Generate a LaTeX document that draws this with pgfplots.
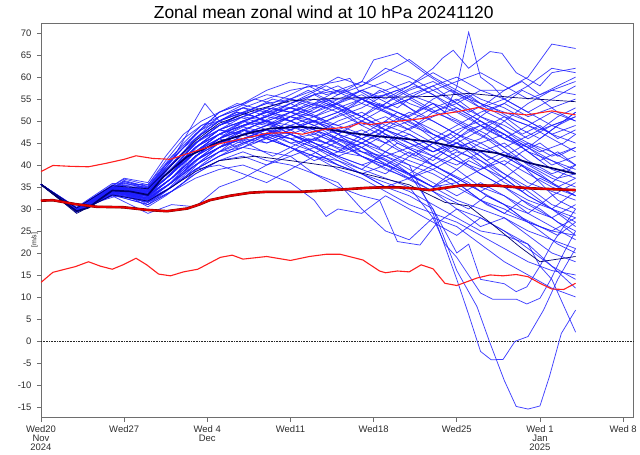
\documentclass[border=0pt]{standalone}
\usepackage{pgfplots}
\pgfplotsset{compat=1.18}
\usepackage{fontspec}
\setmainfont{Liberation Sans}
\definecolor{ens}{RGB}{30,30,255}
\definecolor{navy}{RGB}{0,0,110}
\definecolor{clim}{RGB}{255,30,30}
\definecolor{climd}{RGB}{230,0,0}
\definecolor{climdk}{RGB}{120,0,0}
\definecolor{frame}{RGB}{110,110,110}
\definecolor{lab}{RGB}{45,45,45}
\begin{document}
\begin{tikzpicture}
\begin{axis}[
  scale only axis, width=593bp, height=395bp,
  xmin=0, xmax=49.9, ymin=-17.5, ymax=72.3,
  axis line style={frame, line width=0.8bp},
  tick style={frame, line width=0.6bp},
  tick align=outside, major tick length=4bp,
  xtick pos=bottom, ytick pos=left,
  xtick={0,7,14,21,28,35,42,49},
  xticklabels={{Wed20\\Nov\\2024},{Wed27},{Wed 4\\Dec},{Wed11},{Wed18},{Wed25},{Wed 1\\Jan\\2025},{Wed 8}},
  ytick={-15,-10,...,70},
  tick label style={font=\fontsize{9.5}{9}\selectfont, text=lab},
  xticklabel style={align=center},
  yticklabel style={xshift=-2bp},
  /pgf/number format/assume math mode=true,
  ylabel={[m/s]},
  ylabel style={font=\fontsize{7}{8}\selectfont, text=lab, at={(axis description cs:-0.004,0.45)}, anchor=south, inner sep=0.5bp},
  title={Zonal mean zonal wind at 10 hPa 20241120},
  title style={font=\fontsize{17.5}{20}\selectfont, at={(axis description cs:0.477,1)}, anchor=base, yshift=-1.3bp, inner sep=0pt},
  mem/.style={ens, line width=0.75bp, opacity=0.85},
]
% zero line
\addplot[black!85, densely dotted, line width=0.6bp] coordinates {(0,0)(49.9,0)};
% ensemble members
\addplot[mem] coordinates {(0,35.6)(3,29.8)(6,34.5)(9,33.5)(11,38)(13,43)(15,47)(17,49)(19,51)(21,53)(23,52)(25,55)(27,57)(29,59)(31,56)(33,58)(35,60)(37,57)(39,55)(41,58)(43,62)(45,61)};
\addplot[mem] coordinates {(0,35.6)(3,29.5)(6,34)(9,33)(11,37)(13,42)(15,45)(17,48)(19,50)(21,49)(23,51)(25,48)(27,50)(29,53)(31,55)(33,52)(35,54)(37,57)(39,57)(41,60)(43,67.5)(45,66.5)};
\addplot[mem] coordinates {(0,35.6)(3,30)(6,35)(9,34)(11,40)(13,46)(15,50)(17,52)(19,54)(21,55)(23,53)(25,56)(27,58)(29,61)(31,64)(33,60)(35,57)(37,54)(39,52)(41,50)(43,47)(45,45)};
\addplot[mem] coordinates {(0,35.6)(3,29.6)(6,34)(9,32.5)(11,36)(13,41)(15,44)(17,46)(19,45)(21,47)(23,49)(25,46)(27,44)(29,47)(31,45)(33,42)(35,40)(37,43)(39,45)(41,41)(43,38)(45,40)};
\addplot[mem] coordinates {(0,35.6)(3,29.4)(6,33.5)(9,32)(11,35)(13,39)(15,42)(17,45)(19,47)(21,46)(23,44)(25,42)(27,40)(29,38)(31,42)(33,45)(35,48)(37,50)(39,46)(41,44)(43,48)(45,52)};
\addplot[mem] coordinates {(0,35.6)(3,30.2)(6,35.5)(9,35)(11,41)(13,47)(15,51)(17,53)(19,52)(21,54)(23,56)(25,58)(27,55)(29,52)(31,50)(33,53)(35,55)(37,51)(39,48)(41,45)(43,42)(45,44)};
\addplot[mem] coordinates {(0,35.6)(3,29.7)(6,34.3)(9,33.5)(11,38)(13,44)(15,48)(17,50)(19,48)(21,46)(23,47)(25,50)(27,52)(29,49)(31,47)(33,44)(35,41)(37,38)(39,35)(41,32)(43,30)(45,28)};
\addplot[mem] coordinates {(0,35.6)(3,29.5)(6,33.8)(9,32)(11,36)(13,40)(15,43)(17,47)(19,49)(21,51)(23,50)(25,47)(27,45)(29,43)(31,40)(33,38)(35,35)(37,32)(39,30)(41,27)(43,25)(45,24)};
\addplot[mem] coordinates {(0,35.6)(3,30.1)(6,34.8)(9,34.5)(11,39)(13,45)(15,49)(17,51)(19,53)(21,52)(23,50)(25,49)(27,51)(29,54)(31,57)(33,59)(35,56)(37,53)(39,55)(41,52)(43,49)(45,51)};
\addplot[mem] coordinates {(0,35.6)(3,29.3)(6,33.2)(9,31)(11,34)(13,38)(15,41)(17,42)(19,40)(21,43)(23,46)(25,48)(27,46)(29,43)(31,41)(33,39)(35,42)(37,45)(39,47)(41,44)(43,40)(45,42)};
\addplot[mem] coordinates {(0,35.6)(3,29.9)(6,34.6)(9,34)(11,40)(13,46)(15,50)(17,53)(19,55)(21,57)(23,58)(25,56)(27,59)(29,57)(31,54)(33,52)(35,50)(37,47)(39,44)(41,40)(43,37)(45,35)};
\addplot[mem] coordinates {(0,35.6)(3,29.6)(6,34.1)(9,33)(11,37)(13,42)(15,46)(17,48)(19,47)(21,49)(23,48)(25,45)(27,42)(29,40)(31,38)(33,35)(35,36)(37,39)(39,41)(41,38)(43,35)(45,33)};
\addplot[mem] coordinates {(0,35.6)(3,29.8)(6,34.4)(9,33.6)(11,38)(13,44)(15,47)(17,46)(19,48)(21,51)(23,53)(25,54)(27,51)(29,48)(31,50)(33,47)(35,44)(37,46)(39,50)(41,54)(43,57)(45,56)};
\addplot[mem] coordinates {(0,35.6)(3,29.5)(6,33.7)(9,32.2)(11,36)(13,41)(15,45)(17,48)(19,50)(21,47)(23,45)(25,43)(27,47)(29,50)(31,48)(33,51)(35,53)(37,50)(39,47)(41,43)(43,39)(45,37)};
\addplot[mem] coordinates {(0,35.6)(3,30.3)(6,35.2)(9,34.8)(11,41)(13,47)(15,52)(17,54)(19,56)(21,55)(23,57)(25,60)(27,58)(29,62)(31,60)(33,57)(35,54)(37,51)(39,49)(41,46)(43,49)(45,47)};
\addplot[mem] coordinates {(0,35.6)(3,29.4)(6,33.4)(9,31.5)(11,35)(13,39)(15,40)(17,38)(19,36)(21,39)(23,42)(25,40)(27,38)(29,35)(31,37)(33,40)(35,43)(37,41)(39,38)(41,35)(43,31)(45,29)};
\addplot[mem] coordinates {(0,35.6)(3,29.7)(6,34.2)(9,33)(11,37)(13,43)(15,47)(17,49)(19,51)(21,50)(23,48)(25,46)(27,44)(29,41)(31,38)(33,35)(35,32)(37,30)(39,28)(41,25)(43,23)(45,21)};
\addplot[mem] coordinates {(0,35.6)(3,30)(6,34.9)(9,34.2)(11,39)(13,45)(15,48)(17,50)(19,52)(21,50)(23,52)(25,54)(27,56)(29,53)(31,55)(33,57)(35,59)(37,61)(39,58)(41,55)(43,57)(45,59)};
\addplot[mem] coordinates {(0,35.6)(3,29.6)(6,34)(9,32.8)(11,37)(13,42)(15,46)(17,50)(19,49)(21,51)(23,49)(25,47)(27,50)(29,48)(31,45)(33,43)(35,45)(37,42)(39,38)(41,34)(43,30)(45,26)};
\addplot[mem] coordinates {(0,35.6)(3,29.9)(6,34.7)(9,34)(11,39)(13,44)(15,48)(17,47)(19,49)(21,52)(23,50)(25,48)(27,46)(29,49)(31,52)(33,50)(35,47)(37,44)(39,42)(41,39)(43,36)(45,33)};
\addplot[mem] coordinates {(0,35.6)(3,29.5)(6,33.9)(9,32.5)(11,36)(13,40)(15,44)(17,46)(19,48)(21,45)(23,43)(25,40)(27,38)(29,36)(31,34)(33,31)(35,28)(37,25)(39,24)(41,22)(43,17)(45,14)};
\addplot[mem] coordinates {(0,35.6)(3,30.1)(6,35)(9,34.3)(11,40)(13,46)(15,51)(17,53)(19,51)(21,53)(23,55)(25,53)(27,50)(29,47)(31,44)(33,46)(35,49)(37,52)(39,54)(41,51)(43,53)(45,55)};
\addplot[mem] coordinates {(0,35.6)(3,29.8)(6,34.4)(9,33.4)(11,38)(13,43)(15,46)(17,49)(19,51)(21,53)(23,51)(25,49)(27,47)(29,45)(31,47)(33,44)(35,41)(37,39)(39,42)(41,45)(43,43)(45,40)};
\addplot[mem] coordinates {(0,35.6)(3,29.4)(6,33.6)(9,31.8)(11,35)(13,40)(15,43)(17,44)(19,46)(21,44)(23,41)(25,43)(27,45)(29,42)(31,39)(33,36)(35,33)(37,36)(39,33)(41,30)(43,28)(45,31)};
\addplot[mem] coordinates {(0,35.6)(3,29.7)(6,34.2)(9,33.2)(11,37)(13,42)(15,45)(17,47)(19,49)(21,48)(23,50)(25,52)(27,49)(29,51)(31,48)(33,45)(35,42)(37,38)(39,35)(41,31)(43,28)(45,24)};
\addplot[mem] coordinates {(0,35.6)(3,30.2)(6,35.3)(9,34.6)(11,40)(13,46)(15,50)(17,52)(19,54)(21,53)(23,51)(25,54)(27,57)(29,55)(31,58)(33,61)(35,58)(37,55)(39,53)(41,50)(43,47)(45,49)};
\addplot[mem] coordinates {(0,35.6)(3,29.6)(6,34)(9,32.6)(11,37)(13,41)(15,44)(17,48)(19,46)(21,44)(23,42)(25,39)(27,37)(29,34)(31,31)(33,29)(35,27)(37,24)(39,21)(41,18)(43,16)(45,15)};
\addplot[mem] coordinates {(0,35.6)(3,29.9)(6,34.6)(9,33.9)(11,39)(13,45)(15,49)(17,51)(19,50)(21,48)(23,50)(25,52)(27,54)(29,52)(31,49)(33,47)(35,45)(37,48)(39,51)(41,49)(43,46)(45,43)};
\addplot[mem] coordinates {(0,35.6)(3,29.5)(6,33.8)(9,32.3)(11,36)(13,41)(15,45)(17,47)(19,45)(21,47)(23,45)(25,42)(27,40)(29,42)(31,44)(33,42)(35,39)(37,35)(39,33)(41,29)(43,26)(45,23)};
\addplot[mem] coordinates {(0,35.6)(3,30)(6,34.8)(9,34.1)(11,39)(13,44)(15,47)(17,49)(19,51)(21,54)(23,56)(25,53)(27,51)(29,48)(31,46)(33,43)(35,46)(37,49)(39,47)(41,43)(43,41)(45,38)};
\addplot[mem] coordinates {(0,35.6)(3,29.7)(6,34.3)(9,33.3)(11,38)(13,43)(15,47)(17,50)(19,52)(21,51)(23,49)(25,51)(27,53)(29,56)(31,53)(33,50)(35,47)(37,45)(39,42)(41,39)(43,36)(45,40)};
\addplot[mem] coordinates {(0,35.6)(3,29.4)(6,33.5)(9,31.7)(11,35)(13,39)(15,42)(17,44)(19,47)(21,49)(23,47)(25,45)(27,42)(29,39)(31,37)(33,39)(35,36)(37,32)(39,29)(41,27)(43,25)(45,28)};
\addplot[mem] coordinates {(0,35.6)(3,29.8)(6,34.5)(9,33.7)(11,38)(13,44)(15,48)(17,51)(19,53)(21,55)(23,54)(25,52)(27,55)(29,53)(31,51)(33,54)(35,52)(37,49)(39,46)(41,49)(43,52)(45,50)};
\addplot[mem] coordinates {(0,35.6)(3,29.6)(6,34.1)(9,32.9)(11,37)(13,42)(15,46)(17,45)(19,47)(21,50)(23,48)(25,46)(27,48)(29,45)(31,42)(33,40)(35,37)(37,34)(39,31)(41,29)(43,33)(45,36)};
\addplot[mem] coordinates {(0,35.6)(3,30.1)(6,34.9)(9,34.4)(11,40)(13,45)(15,49)(17,52)(19,50)(21,52)(23,54)(25,57)(27,55)(29,57)(31,59)(33,56)(35,53)(37,50)(39,47)(41,44)(43,41)(45,39)};
\addplot[mem] coordinates {(0,35.6)(3,29.5)(6,33.9)(9,32.4)(11,36)(13,41)(15,44)(17,46)(19,48)(21,46)(23,44)(25,46)(27,43)(29,41)(31,38)(33,42)(35,45)(37,43)(39,40)(41,36)(43,34)(45,32)};
% more members, finer steps
\addplot[mem] coordinates {(0,35.6)(3,29.9)(5,33)(7,36.5)(9,35)(10.5,40)(12,44)(13.5,48)(15,50)(16.5,49)(18,51)(19.5,53)(21,52)(22.5,54)(24,53)(25.5,55)(27,57)(28.5,55)(30,53)(31.5,56)(33,58)(34.5,55)(36,52)(37.5,54)(39,57)(40.5,59)(42,56)(43.5,58)(45,60)};
\addplot[mem] coordinates {(0,35.6)(3,29.5)(5,32)(7,34)(9,31)(10.5,34)(12,38)(13.5,42)(15,44)(16.5,46)(18,45)(19.5,47)(21,49)(22.5,47)(24,45)(25.5,48)(27,46)(28.5,44)(30,47)(31.5,49)(33,46)(34.5,43)(36,45)(37.5,42)(39,40)(40.5,43)(42,45)(43.5,42)(45,44)};
\addplot[mem] coordinates {(0,35.6)(3,30.2)(5,33.5)(7,37)(9,36)(10.5,42)(12,47)(13.5,50)(15,52)(16.5,54)(18,53)(19.5,55)(21,54)(22.5,56)(24,58)(25.5,56)(27,54)(28.5,57)(30,55)(31.5,52)(33,54)(34.5,51)(36,49)(37.5,52)(39,50)(40.5,47)(42,49)(43.5,46)(45,48)};
\addplot[mem] coordinates {(0,35.6)(3,29.6)(5,32.5)(7,35)(9,33.5)(10.5,37)(12,41)(13.5,45)(15,47)(16.5,49)(18,48)(19.5,46)(21,48)(22.5,50)(24,49)(25.5,46)(27,44)(28.5,42)(30,45)(31.5,43)(33,40)(34.5,38)(36,41)(37.5,39)(39,36)(40.5,34)(42,37)(43.5,35)(45,33)};
\addplot[mem] coordinates {(0,35.6)(3,29.4)(5,31.8)(7,33.5)(9,30.5)(10.5,33)(12,36)(13.5,40)(15,43)(16.5,45)(18,47)(19.5,46)(21,44)(22.5,42)(24,44)(25.5,46)(27,43)(28.5,41)(30,39)(31.5,37)(33,35)(34.5,38)(36,36)(37.5,33)(39,31)(40.5,28)(42,26)(43.5,24)(45,27)};
\addplot[mem] coordinates {(0,35.6)(3,30)(5,33.2)(7,36)(9,34.5)(10.5,39)(12,43)(13.5,46)(15,49)(16.5,51)(18,50)(19.5,52)(21,54)(22.5,52)(24,50)(25.5,52)(27,55)(28.5,53)(30,51)(31.5,49)(33,52)(34.5,54)(36,56)(37.5,53)(39,51)(40.5,48)(42,46)(43.5,49)(45,51)};
\addplot[mem] coordinates {(0,35.6)(3,29.7)(5,32.8)(7,35.5)(9,34)(10.5,38)(12,42)(13.5,46)(15,48)(16.5,47)(18,49)(19.5,51)(21,50)(22.5,48)(24,46)(25.5,44)(27,46)(28.5,48)(30,45)(31.5,43)(33,41)(34.5,44)(36,42)(37.5,39)(39,37)(40.5,40)(42,38)(43.5,35)(45,37)};
\addplot[mem] coordinates {(0,35.6)(3,29.8)(5,33)(7,35.8)(9,34.8)(10.5,40)(12,45)(13.5,49)(15,51)(16.5,53)(18,55)(19.5,54)(21,56)(22.5,58)(24,56)(25.5,57)(27,55)(28.5,53)(30,56)(31.5,58)(33,56)(34.5,53)(36,51)(37.5,48)(39,46)(40.5,44)(42,41)(43.5,43)(45,40)};
\addplot[mem] coordinates {(0,35.6)(3,29.5)(5,32.3)(7,34.5)(9,32)(10.5,35)(12,39)(13.5,43)(15,46)(16.5,48)(18,50)(19.5,49)(21,47)(22.5,45)(24,47)(25.5,45)(27,42)(28.5,40)(30,38)(31.5,36)(33,34)(34.5,32)(36,30)(37.5,33)(39,31)(40.5,28)(42,25)(43.5,22)(45,20)};
\addplot[mem] coordinates {(0,35.6)(3,30.1)(5,33.6)(7,36.8)(9,35.5)(10.5,41)(12,46)(13.5,49)(15,50)(16.5,52)(18,51)(19.5,49)(21,51)(22.5,53)(24,55)(25.5,53)(27,51)(28.5,49)(30,52)(31.5,50)(33,48)(34.5,46)(36,49)(37.5,47)(39,44)(40.5,46)(42,48)(43.5,51)(45,53)};
\addplot[mem] coordinates {(0,35.6)(3,29.6)(5,32.6)(7,35)(9,33)(10.5,37)(12,41)(13.5,44)(15,46)(16.5,44)(18,46)(19.5,48)(21,47)(22.5,45)(24,43)(25.5,41)(27,39)(28.5,42)(30,40)(31.5,37)(33,35)(34.5,37)(36,34)(37.5,31)(39,29)(40.5,32)(42,30)(43.5,27)(45,25)};
\addplot[mem] coordinates {(0,35.6)(3,29.9)(5,33.1)(7,36.2)(9,35.2)(10.5,40)(12,44)(13.5,47)(15,50)(16.5,52)(18,51)(19.5,53)(21,55)(22.5,57)(24,55)(25.5,53)(27,51)(28.5,54)(30,52)(31.5,50)(33,47)(34.5,45)(36,48)(37.5,46)(39,43)(40.5,41)(42,39)(43.5,37)(45,38)};
\addplot[mem] coordinates {(0,35.6)(3,29.4)(5,32)(7,34.2)(9,31.5)(10.5,34)(12,37)(13.5,41)(15,44)(16.5,46)(18,44)(19.5,42)(21,44)(22.5,46)(24,45)(25.5,43)(27,45)(28.5,47)(30,44)(31.5,42)(33,45)(34.5,47)(36,44)(37.5,41)(39,43)(40.5,40)(42,36)(43.5,32)(45,30)};
\addplot[mem] coordinates {(0,35.6)(3,30)(5,33.3)(7,36.3)(9,34.7)(10.5,39)(12,43)(13.5,47)(15,49)(16.5,51)(18,53)(19.5,52)(21,50)(22.5,52)(24,54)(25.5,52)(27,49)(28.5,47)(30,50)(31.5,52)(33,55)(34.5,57)(36,55)(37.5,52)(39,54)(40.5,57)(42,55)(43.5,52)(45,50)};
% special members
\addplot[mem] coordinates {(0,35.6)(3,29.9)(6,34.7)(9,34)(11,39)(13,45)(15,49)(17,51)(19,53)(21,52)(23,54)(25,55)(27,55)(29,53)(31,56)(33,54)(34,52)(35,57.8)(36,70.2)(37,60)(38,58)(39,55)(41,52)(43,55)(45,58)};
\addplot[mem] coordinates {(0,35.6)(3,29.8)(6,34.6)(9,33.8)(11,39)(13,44)(15,48)(17,50)(19,52)(21,53)(23,56)(25,57)(27,58.9)(28,63.9)(30,65.4)(31,63.5)(32.5,60.5)(34,58)(36,55)(38,53)(40,50)(42,48)(44,50)(45,52)};
\addplot[mem] coordinates {(0,35.6)(3,29.7)(6,34.4)(9,33.5)(11,38)(13,43)(15,47)(17,49)(19,50)(21,52)(23,51)(25,53)(27,55)(29,56)(31,58)(33,62)(33.8,64.3)(34.7,66.1)(36,62)(37.8,65.8)(38.8,65.4)(40,61)(42,58)(43,61)(45,62)};
\addplot[mem] coordinates {(0,35.6)(3,30.4)(6,35.8)(9,35.5)(11,42)(13,47)(15,52)(17,54)(19,57)(21,58.9)(23,58)(25,59)(26,59.7)(26.7,57)(28,55)(30,57)(32,54)(34,51)(36,48)(38,50)(40,46)(42,43)(44,45)(45,47)};
\addplot[mem] coordinates {(0,35.6)(3,30)(6,35)(9,34.5)(11,41)(12.5,48)(13.8,54)(15,50)(17,52)(19,50)(21,48)(23,50)(25,47)(27,45)(29,48)(31,46)(33,43)(35,45)(37,41)(39,37)(41,33)(43,30)(45,27)};
\addplot[mem] coordinates {(0,35.6)(3,29.6)(6,34.1)(9,33)(11,37)(13,42)(15,45)(17,47)(19,48)(21,47)(23,45)(25,43)(27,42)(29,40)(31,38)(33,30)(35,16)(36.7,7.8)(37.8,-0.5)(39,-9)(40,-14.9)(41,-15.5)(42,-14.8)(42.8,-8.1)(43.8,1.7)(45,7)};
\addplot[mem] coordinates {(0,35.6)(3,29.5)(6,33.9)(9,32.5)(11,36)(13,41)(15,44)(17,46)(19,47)(21,45)(23,46)(25,44)(27,43)(29,42)(31,40)(33,29)(35,14)(36,6)(37,-2.4)(37.9,-4.3)(38.9,-4.2)(39.9,-0.1)(41,1)(42.3,7)(43.5,14)(45,21)};
\addplot[mem] coordinates {(0,35.6)(3,29.7)(6,34.2)(9,33.2)(11,37)(13,42)(15,46)(17,48)(19,46)(21,44)(23,42)(25,41)(27,39)(29,37)(31,35)(33,28)(34,22)(35,19)(37,10.9)(38,9.5)(40,9.5)(40.9,8.4)(42,9.7)(42.9,13.9)(44,20)(45,25)};
\addplot[mem] coordinates {(0,35.6)(3,29.6)(6,34)(9,32.8)(11,36)(13,40)(15,43)(17,45)(19,47)(21,46)(23,43)(25,40)(27,38)(29,35)(31,33)(33,30)(35,20)(36,22)(37,14)(39,13)(40,11.2)(40.9,12.3)(42,17)(43,22)(45,30)};
\addplot[mem] coordinates {(0,35.6)(3,29.8)(6,34.5)(9,33.6)(11,38)(13,43)(15,46)(17,48)(19,46)(21,48)(23,45)(25,42)(27,44)(29,40)(31,37)(33,34)(35,30)(37,28)(39,25)(41,22)(42,17)(43,14)(44,8)(45,2)};
\addplot[mem] coordinates {(0,35.6)(3,29.5)(6,33.8)(9,32.2)(11,35)(13,39)(15,42)(17,44)(19,43)(21,42)(23,38)(25,35)(27,33)(28.5,32)(30,22.6)(31.9,21.8)(33.3,26.7)(35,30)(37,26)(39,28)(41,24)(43,20)(45,18)};
\addplot[mem] coordinates {(0,35.6)(3,29.4)(6,33.4)(9,31.5)(11,34)(13,37)(15,39)(17,40)(19,38)(21,36)(23,32)(24,28.3)(25,30)(27,29)(29,33)(31,30)(33,27)(35,24)(37,28)(39,25)(41,21)(43,17)(45,12)};
\addplot[mem] coordinates {(0,35.6)(3,29.3)(6,33.2)(9,31)(11,34)(13,38)(15,41)(17,43)(19,41)(21,40)(23,38)(25,36)(27,30)(29,25)(31,23)(33,28)(35,26)(37,22)(39,18)(41,15)(43,12)(45,10)};
\addplot[mem] coordinates {(0,35.6)(3,29.3)(6,33)(9,29)(11,31)(13,30.5)(15,35)(17,37)(19,40)(21,42)(23,44)(25,41)(27,38)(29,40)(31,43)(33,40)(35,37)(37,34)(39,37)(41,33)(43,30)(45,34)};
% ensemble mean and spread
\addplot[navy, line width=1.7bp] coordinates {(0,35.6)(1,33.5)(2,31.5)(3,29.5)(4,30.3)(5,32.3)(6,34.2)(7.5,34)(9,33.2)(10.3,37.3)(12.3,41.9)(15,45.3)(18,47.6)(19.3,48.3)(21.8,48.7)(24,48.2)(26,47.3)(28.5,46.5)(30.5,46)(32.7,45.3)(35.5,43.8)(38.4,42.7)(41.2,40.4)(43,39.3)(45,38)};
\addplot[navy, line width=0.7bp] coordinates {(0,35.6)(3,30.2)(6,35.3)(9,34.6)(11,40)(13,45.5)(15,49.5)(18,52.5)(21,54.6)(25,55.2)(29,55.4)(33,55.6)(36,56.3)(40,55.3)(45,54.4)};
\addplot[navy, line width=0.7bp] coordinates {(0,35.6)(3,29)(6,33.2)(9,31.8)(11,35)(13,38.5)(15,41)(18,42)(21,41)(25,39.5)(28,37.5)(31,35.5)(34,31.5)(36,30.7)(38,26.5)(40.3,21.4)(42,18)(45,19.2)};
% climatology
\addplot[clim, line width=1.1bp] coordinates {(0,38.5)(1,39.9)(2.5,39.7)(4,39.6)(5.5,40.4)(7,41.3)(8,42.1)(9.4,41.5)(10.9,41.3)(12.8,43)(15.1,44.9)(17,46)(19,47.2)(21,47.4)(22,47)(23.8,48.1)(26,48.7)(26.9,49.6)(27.7,49.2)(29.4,49.8)(30.2,50)(32.2,50.6)(33.3,51.4)(35,52.1)(36.8,53.1)(38,52.3)(38.9,51.9)(40.9,51.4)(43,52.3)(45,51.4)};
\addplot[clim, line width=1.1bp] coordinates {(0,13.3)(1,15.6)(2.9,16.9)(4,18)(5,17)(6,16.3)(6.9,17.3)(8,18.8)(8.9,17.3)(9.9,15.2)(10.9,14.8)(12,15.7)(13.2,16.3)(15.1,19)(16.1,19.5)(17,18.6)(19,19.2)(21,18.3)(22.6,19.2)(24,19.7)(25.2,19.7)(27.1,18.4)(28.5,15.9)(29,15.5)(30,15.9)(31,15.7)(32,17.3)(33,16.4)(34,13.1)(35,12.6)(36.7,14.3)(37.8,15)(38.9,14.8)(40,15.1)(41,14.6)(42,13.1)(43,11.8)(44,11.7)(45,13.1)};
\addplot[climdk, line width=2.6bp] coordinates {(0,31.9)(1,32)(2.9,31.1)(4.7,30.5)(6.9,30.4)(8.9,29.8)(10.6,29.5)(12.3,30.1)(13.4,31.1)(14.2,32)(15.9,33)(17.6,33.7)(19,33.9)(21.8,33.9)(24.6,34.3)(27.4,34.8)(28.5,34.9)(30.2,34.9)(31.3,34.7)(32.7,34.3)(35.5,35.4)(38.4,35.3)(41.2,34.7)(45,34.3)};
\addplot[climd, line width=1.8bp] coordinates {(0,31.9)(1,32)(2.9,31.1)(4.7,30.5)(6.9,30.4)(8.9,29.8)(10.6,29.5)(12.3,30.1)(13.4,31.1)(14.2,32)(15.9,33)(17.6,33.7)(19,33.9)(21.8,33.9)(24.6,34.3)(27.4,34.8)(28.5,34.9)(30.2,34.9)(31.3,34.7)(32.7,34.3)(35.5,35.4)(38.4,35.3)(41.2,34.7)(45,34.3)};
\end{axis}
\path ([xshift=-41bp,yshift=-37bp]current axis.south west) rectangle ([xshift=6bp,yshift=23bp]current axis.north east);
\end{tikzpicture}
\end{document}
